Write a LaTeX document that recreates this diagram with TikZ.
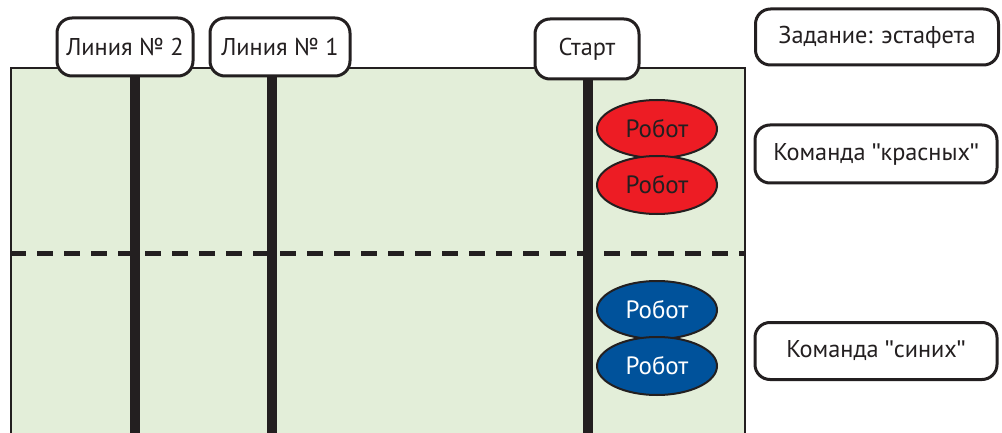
\documentclass[tikz,border=0pt]{standalone}
\usepackage{fontspec}
\setmainfont{PT Sans}
\newfontfamily\qfont{Liberation Sans}
\newcommand{\sq}{{\qfont"}}
\usetikzlibrary{shapes.geometric}
\definecolor{ink}{HTML}{231F20}
\definecolor{field}{HTML}{E3EED9}
\definecolor{rred}{HTML}{ED1C24}
\definecolor{rblue}{HTML}{00529B}
\tikzset{
  lbl/.style={draw=ink, line width=3pt, rounded corners=15pt, fill=white, inner sep=0pt,
    font=\fontsize{24.3}{26}\selectfont, text=ink},
  robot/.style={ellipse, draw=ink, line width=2pt, minimum width=120pt, minimum height=58pt,
    inner sep=0pt, font=\fontsize{25}{27}\selectfont},
  track/.style={draw=ink, line width=10pt},
}
\begin{document}
\begin{tikzpicture}[x=1pt,y=-1pt]
\useasboundingbox (0,0) rectangle (1002,433);
\begin{scope}
\clip (0,0) rectangle (1002,433);
\fill[field] (11,68) rectangle (745,450);
\draw[ink, line width=2pt] (11,450) -- (11,68) -- (745,68) -- (745,450);
\draw[ink, line width=5pt, dash pattern=on 16pt off 11pt] (10,253) -- (745,253);
\path (125,47) node[lbl, minimum width=136pt, minimum height=58pt, draw=none, fill=none] (l2) {}
      (280,47) node[lbl, minimum width=140pt, minimum height=58pt, draw=none, fill=none] (l1) {}
      (587,49) node[lbl, minimum width=104pt, minimum height=60pt, draw=none, fill=none] (st) {};
\coordinate (b2) at (135,440);
\coordinate (b1) at (272,440);
\coordinate (bs) at (588,440);
\draw[track] (l2.south -| b2) -- (b2);
\draw[track] (l1.south -| b1) -- (b1);
\draw[track] (st.south -| bs) -- (bs);
\node[lbl, minimum width=136pt, minimum height=58pt] (t2) at (l2) {Линия № 2};
\node[lbl, minimum width=140pt, minimum height=58pt] (t1) at (l1) {Линия № 1};
\node[lbl, minimum width=104pt, minimum height=60pt] (ts) at (st) {Старт};
\end{scope}
\node[lbl, minimum width=243pt, minimum height=56pt] (task) at (877,37) {Задание: эстафета};
\node[lbl, minimum width=242pt, minimum height=58pt] (red) at (876,154) {Команда \sq красных\sq};
\node[lbl, minimum width=242pt, minimum height=57pt] (blue) at (876,351) {Команда \sq синих\sq};
\node[robot, fill=rred, text=ink] (r1) at (657,129) {Робот};
\node[robot, fill=rred, text=ink] (r2) at (657,185) {Робот};
\node[robot, fill=rblue, text=white] (u1) at (657,310) {Робот};
\node[robot, fill=rblue, text=white] (u2) at (657,366) {Робот};
\end{tikzpicture}
\end{document}
